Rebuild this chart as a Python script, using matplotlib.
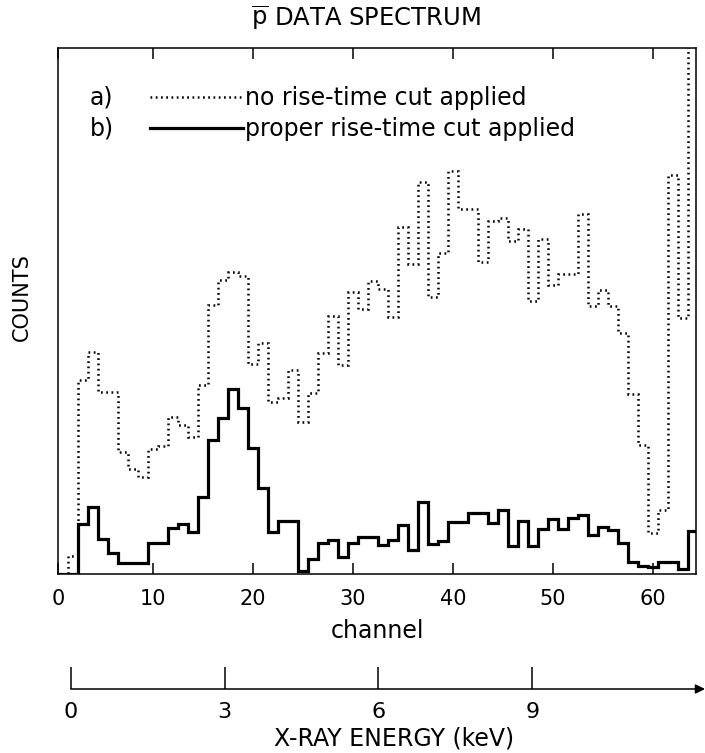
import matplotlib
matplotlib.use("Agg")
import matplotlib.pyplot as plt
from matplotlib.lines import Line2D
import numpy as np

# channel numbers 1..64, counts in arbitrary units
channels = np.arange(1, 65)

counts_no_cut = [
    0, 18, 194, 222, 182, 182, 122, 105, 97, 125,
    128, 157, 149, 137, 189, 269, 294, 302, 298, 210,
    231, 172, 176, 204, 152, 181, 221, 258, 209, 282,
    265, 293, 285, 257, 347, 310, 392, 277, 321, 403,
    365, 365, 312, 353, 356, 333, 345, 273, 335, 289,
    300, 300, 360, 268, 284, 268, 241, 180, 129, 41,
    64, 399, 256, 700,
]

counts_cut = [
    0, 0, 50, 67, 35, 21, 11, 11, 11, 31,
    31, 46, 50, 42, 77, 134, 156, 185, 166, 126,
    86, 42, 53, 53, 3, 15, 31, 34, 17, 31,
    37, 37, 29, 34, 49, 24, 72, 30, 33, 52,
    52, 61, 61, 51, 64, 28, 53, 28, 45, 55,
    45, 56, 59, 39, 47, 44, 31, 12, 8, 7,
    12, 12, 5, 43,
]

channel_ticks = [10, 20, 30, 40, 50, 60]
energy_ticks = [0, 3, 6, 9]

labels = ["no rise-time cut applied", "proper rise-time cut applied"]

dotted = (0, (0.7, 1.4))

fig = plt.figure(figsize=(7.05, 7.53), dpi=100)
ax = fig.add_axes([58 / 705, 179 / 753, 638 / 705, 526 / 753])

edges = np.append(channels - 0.5, channels[-1] + 0.5)
ax.stairs(counts_no_cut, edges, baseline=0, color="black", lw=1.8,
          linestyle=dotted)
ax.stairs(counts_cut, edges, baseline=0, color="black", lw=2.3)

ax.set_xlim(0.5, 64.3)
ax.set_ylim(0, 526)
ax.set_xticks([0.5] + channel_ticks)
ax.set_xticklabels(["0"] + [str(t) for t in channel_ticks])
ax.set_yticks([])
ax.tick_params(axis="x", direction="in", length=8, width=1.1, top=True,
               labelsize=15, pad=11)
for s in ax.spines.values():
    s.set_linewidth(1.1)
ax.set_xlabel("channel", fontsize=17, labelpad=7)

# legend: dotted / solid samples
handles = [
    Line2D([], [], color="black", lw=1.8, linestyle=dotted),
    Line2D([], [], color="black", lw=2.3),
]
ax.legend(handles, labels, loc="upper left", frameon=False,
          fontsize=17, bbox_to_anchor=(0.144, 0.927),
          borderpad=0, borderaxespad=0, handlelength=3.95,
          handletextpad=0.1, labelspacing=0.3)
ax.text(0.05, 0.905, "a)", transform=ax.transAxes, fontsize=17, va="center")
ax.text(0.05, 0.847, "b)", transform=ax.transAxes, fontsize=17, va="center")

fig.text(366 / 705, 1 - 18 / 753, r"$\overline{\mathrm{p}}$ DATA SPECTRUM",
         fontsize=17.5, ha="center", va="center")
fig.text(22 / 705, 1 - 297 / 753, "COUNTS", fontsize=15, rotation=90,
         ha="center", va="center")

# secondary energy scale below
ex = fig.add_axes([58 / 705, 64 / 753, 647 / 705, 0.03])
ex.set_xlim(-0.25, 12.37)
ex.set_ylim(0, 1)
for s in ex.spines.values():
    s.set_visible(False)
ex.set_yticks([])
ex.set_xticks(energy_ticks)
ex.set_xticklabels([str(t) for t in energy_ticks])
ex.tick_params(axis="x", direction="in", length=16, width=1.1,
               labelsize=16, pad=9)
ex.annotate("", xy=(12.37, 0), xytext=(0, 0), xycoords="data",
            arrowprops=dict(arrowstyle="-|>", color="black", lw=1.1,
                            mutation_scale=14, shrinkA=0, shrinkB=0),
            annotation_clip=False)
ex.set_xlabel("X-RAY ENERGY (keV)", fontsize=17)
ex.xaxis.set_label_coords((394 - 58) / 647, -1.68)

fig.savefig("out.png", dpi=100)
